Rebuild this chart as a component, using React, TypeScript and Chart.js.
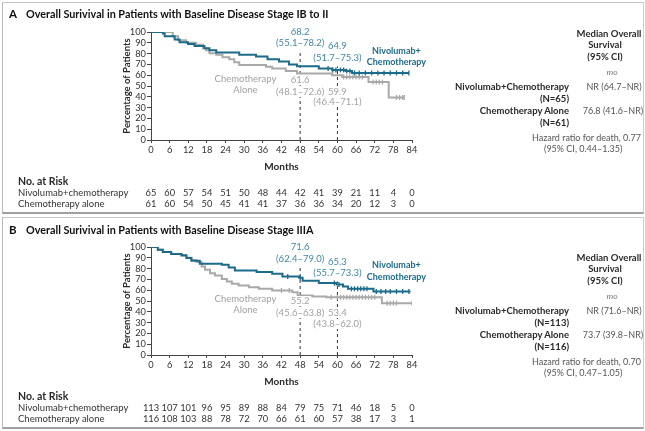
import React, { useEffect, useRef } from "react";
import { Chart, registerables } from "chart.js";
Chart.register(...registerables);

const FONT = "Lato, 'Noto Sans', sans-serif";
const TEAL = "#1c6b8a";
const TEAL_TXT = "#4089a7";
const GRAY = "#a9a9a9";
const GRAY_TXT = "#a2a2a2";
const INK = "#2a2a2a";

// ---- shared axes ----
const MONTH_TICKS = [0, 6, 12, 18, 24, 30, 36, 42, 48, 54, 60, 66, 72, 78, 84];
const PCT_TICKS = [0, 10, 20, 30, 40, 50, 60, 70, 80, 90, 100];
const RISK_LABELS = ["Nivolumab+chemotherapy", "Chemotherapy alone"];

// ---- Panel A: stage IB to II ----
const A_NIVO_MONTHS = [0, 3.8, 4.4, 7.6, 9.2, 11.9, 14, 17.2, 18.8, 21, 28.4, 33.8, 37.5, 41.2, 44.4, 47, 54, 58.3, 62.6, 64.7, 83];
const A_NIVO_PCT = [100, 98.5, 96, 93, 90.5, 89, 87, 85, 83, 81, 79, 77.3, 74.8, 72.6, 70, 68.2, 66.2, 64.9, 63.8, 62.1, 62.1];
const A_CHEMO_MONTHS = [0, 7, 8.7, 11.3, 14.5, 16.7, 17.7, 18.8, 21, 23, 25.2, 26.8, 28.4, 37, 39, 43.4, 47, 58.3, 61.5, 70, 76.5, 81.5];
const A_CHEMO_PCT = [100, 96, 92.4, 90, 88.3, 85, 83, 80.4, 79, 76.7, 74.8, 72, 69.4, 67.8, 66.2, 64, 61.6, 59.9, 58.4, 53.6, 39.4, 39.4];
const A_NIVO_CENSOR_M = [57, 58.5, 59.5, 61, 62, 63, 64, 65.5, 67, 69, 71, 73, 75, 77, 79, 81, 83];
const A_NIVO_CENSOR_P = [66.2, 64.9, 64.9, 64.9, 64.9, 63.8, 63.8, 62.1, 62.1, 62.1, 62.1, 62.1, 62.1, 62.1, 62.1, 62.1, 62.1];
const A_CHEMO_CENSOR_M = [62, 63, 64, 65, 66, 67, 68, 71.5, 72.5, 73.5, 74.5, 79, 80, 81, 81.5];
const A_CHEMO_CENSOR_P = [58.4, 58.4, 58.4, 58.4, 58.4, 58.4, 58.4, 53.6, 53.6, 53.6, 53.6, 39.4, 39.4, 39.4, 39.4];
const A_RISK_NIVO = [65, 60, 57, 54, 51, 50, 48, 44, 42, 41, 39, 21, 11, 4, 0];
const A_RISK_CHEMO = [61, 60, 54, 50, 45, 41, 41, 37, 36, 36, 34, 20, 12, 3, 0];
const A_DASH_48 = [0, 82];
const A_DASH_60 = [0, 68];

// ---- Panel B: stage IIIA ----
const B_NIVO_MONTHS = [0, 2.2, 3.8, 6.5, 9.8, 11.4, 13, 15.7, 22.8, 25, 27, 34, 39, 42.3, 47.7, 48.8, 54, 59.7, 61.8, 63.4, 71.6, 83.5];
const B_NIVO_PCT = [100, 97.5, 95.4, 93.5, 92.3, 89.8, 87.3, 84.5, 83.6, 81, 78.3, 76.8, 75.2, 72.8, 71.6, 68.7, 66.6, 65.3, 63.5, 61.3, 58.8, 58.8];
const B_CHEMO_MONTHS = [0, 2.2, 3.8, 6.5, 9.8, 11.4, 13, 14.6, 16.3, 17.4, 19, 20.6, 22.8, 24.4, 26, 28.2, 31.5, 34.7, 39, 45.5, 47.2, 52, 56.4, 74.3, 84];
const B_CHEMO_PCT = [100, 97.5, 95.4, 93.5, 92, 90, 88, 86, 82, 79, 75.8, 73.7, 70.3, 68, 66, 64.4, 62.8, 61.3, 59.8, 58.2, 55.2, 54.2, 53.4, 48, 48];
const B_NIVO_CENSOR_M = [44, 48, 59, 60.5, 64.5, 65.5, 66.5, 67.5, 68.5, 69.5, 72.5, 74, 75.5, 77, 79, 81, 83];
const B_NIVO_CENSOR_P = [72.8, 71.6, 66.6, 65.3, 61.3, 61.3, 61.3, 61.3, 61.3, 61.3, 58.8, 58.8, 58.8, 58.8, 58.8, 58.8, 58.8];
const B_CHEMO_CENSOR_M = [42, 44.5, 58, 60, 61, 62, 63, 64, 65, 66, 67, 68, 69, 70, 71, 72, 76, 77, 78, 79, 84];
const B_CHEMO_CENSOR_P = [59.8, 59.8, 53.4, 53.4, 53.4, 53.4, 53.4, 53.4, 53.4, 53.4, 53.4, 53.4, 53.4, 53.4, 53.4, 53.4, 48, 48, 48, 48, 48];
const B_RISK_NIVO = [113, 107, 101, 96, 95, 89, 88, 84, 79, 75, 71, 46, 18, 5, 0];
const B_RISK_CHEMO = [116, 108, 103, 88, 78, 72, 70, 66, 61, 60, 57, 38, 17, 3, 1];
const B_DASH_48 = [0, 81];
const B_DASH_60 = [0, 68];

type Label = { text: string; m: number; p: number; color: string; bold?: boolean; size?: number; bg?: boolean };

const A_LABELS: Label[] = [
  { text: "68.2", m: 48, p: 100, color: TEAL_TXT },
  { text: "(55.1–78.2)", m: 48, p: 89.8, color: TEAL_TXT },
  { text: "64.9", m: 60, p: 87, color: TEAL_TXT },
  { text: "(51.7–75.3)", m: 60, p: 76, color: TEAL_TXT },
  { text: "Nivolumab+", m: 79, p: 82.4, color: TEAL, bold: true, size: 9 },
  { text: "Chemotherapy", m: 79, p: 72.2, color: TEAL, bold: true, size: 9 },
  { text: "Chemotherapy", m: 30.4, p: 56.5, color: GRAY_TXT, size: 9.5 },
  { text: "Alone", m: 30.4, p: 46.3, color: GRAY_TXT, size: 9.5 },
  { text: "61.6", m: 48, p: 55.6, color: GRAY_TXT, bg: true },
  { text: "(48.1–72.6)", m: 48, p: 44.4, color: GRAY_TXT, bg: true },
  { text: "59.9", m: 60, p: 44.4, color: GRAY_TXT, bg: true },
  { text: "(46.4–71.1)", m: 60, p: 35.2, color: GRAY_TXT, bg: true },
];

const B_LABELS: Label[] = [
  { text: "71.6", m: 48, p: 100, color: TEAL_TXT },
  { text: "(62.4–79.0)", m: 48, p: 88.9, color: TEAL_TXT },
  { text: "65.3", m: 60, p: 86.1, color: TEAL_TXT },
  { text: "(55.7–73.3)", m: 60, p: 75.9, color: TEAL_TXT },
  { text: "Nivolumab+", m: 79, p: 83.3, color: TEAL, bold: true, size: 9 },
  { text: "Chemotherapy", m: 79, p: 72.2, color: TEAL, bold: true, size: 9 },
  { text: "Chemotherapy", m: 30.4, p: 51.9, color: GRAY_TXT, size: 9.5 },
  { text: "Alone", m: 30.4, p: 41.7, color: GRAY_TXT, size: 9.5 },
  { text: "55.2", m: 48, p: 50, color: GRAY_TXT, bg: true },
  { text: "(45.6–63.8)", m: 48, p: 38.9, color: GRAY_TXT, bg: true },
  { text: "53.4", m: 60, p: 38.9, color: GRAY_TXT, bg: true },
  { text: "(43.8–62.0)", m: 60, p: 28.7, color: GRAY_TXT, bg: true },
];

const A_SIDE = {
  nivoN: "(N=65)", chemoN: "(N=61)",
  nivoMedian: "NR (64.7–NR)", chemoMedian: "76.8 (41.6–NR)",
  hr: "Hazard ratio for death, 0.77", hrCi: "(95% CI, 0.44–1.35)",
};
const B_SIDE = {
  nivoN: "(N=113)", chemoN: "(N=116)",
  nivoMedian: "NR (71.6–NR)", chemoMedian: "73.7 (39.8–NR)",
  hr: "Hazard ratio for death, 0.70", hrCi: "(95% CI, 0.47–1.05)",
};

const PANELS = [
  {
    top: 0, letter: "A", title: "Overall Surivival in Patients with Baseline Disease Stage IB to II",
    nivoM: A_NIVO_MONTHS, nivoP: A_NIVO_PCT, chemoM: A_CHEMO_MONTHS, chemoP: A_CHEMO_PCT,
    nivoCM: A_NIVO_CENSOR_M, nivoCP: A_NIVO_CENSOR_P, chemoCM: A_CHEMO_CENSOR_M, chemoCP: A_CHEMO_CENSOR_P,
    riskNivo: A_RISK_NIVO, riskChemo: A_RISK_CHEMO, dash48: A_DASH_48, dash60: A_DASH_60,
    labels: A_LABELS, side: A_SIDE, sideTop: 34, titleY: 14,
  },
  {
    top: 215, letter: "B", title: "Overall Surivival in Patients with Baseline Disease Stage IIIA",
    nivoM: B_NIVO_MONTHS, nivoP: B_NIVO_PCT, chemoM: B_CHEMO_MONTHS, chemoP: B_CHEMO_PCT,
    nivoCM: B_NIVO_CENSOR_M, nivoCP: B_NIVO_CENSOR_P, chemoCM: B_CHEMO_CENSOR_M, chemoCP: B_CHEMO_CENSOR_P,
    riskNivo: B_RISK_NIVO, riskChemo: B_RISK_CHEMO, dash48: B_DASH_48, dash60: B_DASH_60,
    labels: B_LABELS, side: B_SIDE, sideTop: 43, titleY: 15,
  },
];

const RISK_ROW_Y = [193, 204];

const kmTextPlugin = {
  id: "kmText",
  afterDraw(chart: any, _args: any, opts: any) {
    const { ctx } = chart;
    const xs = chart.scales.x;
    const ys = chart.scales.y;
    ctx.save();
    ctx.textAlign = "center";
    ctx.textBaseline = "middle";
    for (const l of opts.labels as Label[]) {
      ctx.font = `${l.bold ? "bold " : ""}${l.size || 9.5}px ${FONT}`;
      const px = xs.getPixelForValue(l.m);
      const py = ys.getPixelForValue(l.p);
      if (l.bg) {
        const w = ctx.measureText(l.text).width;
        ctx.fillStyle = "#ffffff";
        ctx.fillRect(px - w / 2 - 1, py - 5, w + 2, 10);
      }
      ctx.fillStyle = l.color;
      ctx.fillText(l.text, px, py);
    }
    ctx.font = `9.3px ${FONT}`;
    ctx.fillStyle = "#333";
    (opts.risk as number[][]).forEach((row, r) => {
      row.forEach((v, i) => {
        ctx.fillText(String(v), xs.getPixelForValue(MONTH_TICKS[i]), RISK_ROW_Y[r]);
      });
    });
    ctx.restore();
  },
};

function pts(m: number[], p: number[]) {
  return m.map((x, i) => ({ x, y: p[i] }));
}

function KMChart({ panel }: { panel: any }) {
  const ref = useRef<HTMLCanvasElement>(null);
  useEffect(() => {
    const dashStyle = { borderColor: "#333", borderWidth: 1, borderDash: [3, 3], pointRadius: 0, fill: false };
    const censor = (color: string) => ({
      showLine: false, pointStyle: "line", rotation: 90, pointRadius: 2.5,
      pointBorderColor: color, pointBorderWidth: 1.3, pointBackgroundColor: color, borderColor: color,
    });
    const chart = new Chart(ref.current!, {
      type: "line",
      data: {
        datasets: [
          { data: pts(panel.nivoM, panel.nivoP), stepped: true, borderColor: TEAL, borderWidth: 2, pointRadius: 0, order: 1 },
          { data: pts(panel.nivoCM, panel.nivoCP), ...censor(TEAL), order: 1 },
          { data: pts(panel.chemoM, panel.chemoP), stepped: true, borderColor: GRAY, borderWidth: 2, pointRadius: 0, order: 2 },
          { data: pts(panel.chemoCM, panel.chemoCP), ...censor(GRAY), order: 2 },
          { data: [{ x: 48, y: panel.dash48[0] }, { x: 48, y: panel.dash48[1] }], ...dashStyle, order: 3 },
          { data: [{ x: 60, y: panel.dash60[0] }, { x: 60, y: panel.dash60[1] }], ...dashStyle, order: 3 },
        ] as any,
      },
      options: {
        responsive: false,
        maintainAspectRatio: false,
        animation: false,
        devicePixelRatio: 1,
        layout: { padding: { left: 121, right: 233, top: 32, bottom: 42 } },
        plugins: {
          legend: { display: false },
          tooltip: { enabled: false },
          kmText: { labels: panel.labels, risk: [panel.riskNivo, panel.riskChemo] },
        } as any,
        scales: {
          x: {
            type: "linear", min: 0, max: 84,
            afterFit: (s: any) => { s.height = 33; },
            afterBuildTicks: (s: any) => { s.ticks = MONTH_TICKS.map((v) => ({ value: v })); },
            ticks: { stepSize: 6, autoSkip: false, maxRotation: 0, padding: 1, color: "#333", font: { family: FONT, size: 9.3 } },
            grid: { drawOnChartArea: false, drawTicks: true, tickLength: 3, color: "#444" },
            border: { color: "#444", width: 1 },
            title: { display: true, text: "Months", color: INK, font: { family: FONT, size: 10, weight: "bold" }, padding: 0 },
          },
          y: {
            type: "linear", min: 0, max: 100,
            afterFit: (s: any) => { s.width = 30; },
            afterBuildTicks: (s: any) => { s.ticks = PCT_TICKS.map((v) => ({ value: v })); },
            ticks: { stepSize: 10, autoSkip: false, padding: 1, color: "#333", font: { family: FONT, size: 9.3 } },
            grid: { drawOnChartArea: false, drawTicks: true, tickLength: 4, color: "#444" },
            border: { color: "#444", width: 1 },
            title: { display: true, text: "Percentage of Patients", color: INK, font: { family: FONT, size: 9.5, weight: "bold" }, padding: 0 },
          },
        } as any,
      },
      plugins: [kmTextPlugin],
    });
    return () => chart.destroy();
  }, [panel]);
  return (
    <canvas
      ref={ref}
      width={645}
      height={215}
      style={{ position: "absolute", left: 0, top: 0, width: 645, height: 215 }}
    />
  );
}

function T({ x, y, a = "left", s = {}, children }: any) {
  const tr = a === "center" ? "translateX(-50%)" : a === "right" ? "translateX(-100%)" : "none";
  return (
    <div
      style={{
        position: "absolute", left: x, top: y - 7, height: 14, lineHeight: "14px",
        whiteSpace: "nowrap", transform: tr, fontFamily: FONT, fontSize: 9.5, color: "#333", ...s,
      }}
    >
      {children}
    </div>
  );
}

function Panel({ panel }: { panel: any }) {
  const st = panel.sideTop;
  const bold = { fontWeight: 700, color: INK };
  const reg = { color: "#555", fontSize: 9 };
  const side = panel.side;
  return (
    <div style={{ position: "absolute", left: 0, top: panel.top, width: 645, height: 215 }}>
      <div
        style={{
          position: "absolute", left: 2, top: 2, width: 640, height: 209,
          borderLeft: "1px solid #b8b8b8", borderTop: "1px solid #c8c8c8", borderRight: "1px solid #d0d0d0",
          borderBottom: "2px solid #a0a0a0", boxSizing: "content-box",
        }}
      />
      <KMChart panel={panel} />
      <T x={9} y={panel.titleY} s={{ fontWeight: 700, fontSize: 11.5, color: "#111" }}>{panel.letter}</T>
      <T x={26} y={panel.titleY} s={{ fontWeight: 700, fontSize: 10.8, color: "#111" }}>{panel.title}</T>

      <T x={18} y={181} s={{ ...bold, fontSize: 10.5 }}>No. at Risk</T>
      <T x={18} y={RISK_ROW_Y[0]}>{RISK_LABELS[0]}</T>
      <T x={18} y={RISK_ROW_Y[1]}>{RISK_LABELS[1]}</T>

      <T x={609} y={st} a="center" s={bold}>Median Overall</T>
      <T x={605} y={st + 11} a="center" s={bold}>Survival</T>
      <T x={605} y={st + 23} a="center" s={bold}>(95% CI)</T>
      <T x={612} y={st + 38} a="center" s={{ fontStyle: "italic", color: "#777", fontSize: 8.5 }}>mo</T>
      <T x={569} y={st + 53} a="right" s={bold}>Nivolumab+Chemotherapy</T>
      <T x={569} y={st + 65} a="right" s={bold}>{side.nivoN}</T>
      <T x={614} y={st + 53} a="center" s={reg}>{side.nivoMedian}</T>
      <T x={569} y={st + 77} a="right" s={bold}>Chemotherapy Alone</T>
      <T x={569} y={st + 89} a="right" s={bold}>{side.chemoN}</T>
      <T x={613} y={st + 77} a="center" s={reg}>{side.chemoMedian}</T>
      <T x={532} y={st + 104} s={reg}>{side.hr}</T>
      <T x={544} y={st + 115} s={reg}>{side.hrCi}</T>
    </div>
  );
}

export default function App() {
  return (
    <div style={{ position: "absolute", left: 0, top: 0, width: 645, height: 431, background: "#fff", overflow: "hidden" }}>
      {PANELS.map((p) => (
        <Panel key={p.letter} panel={p} />
      ))}
    </div>
  );
}
